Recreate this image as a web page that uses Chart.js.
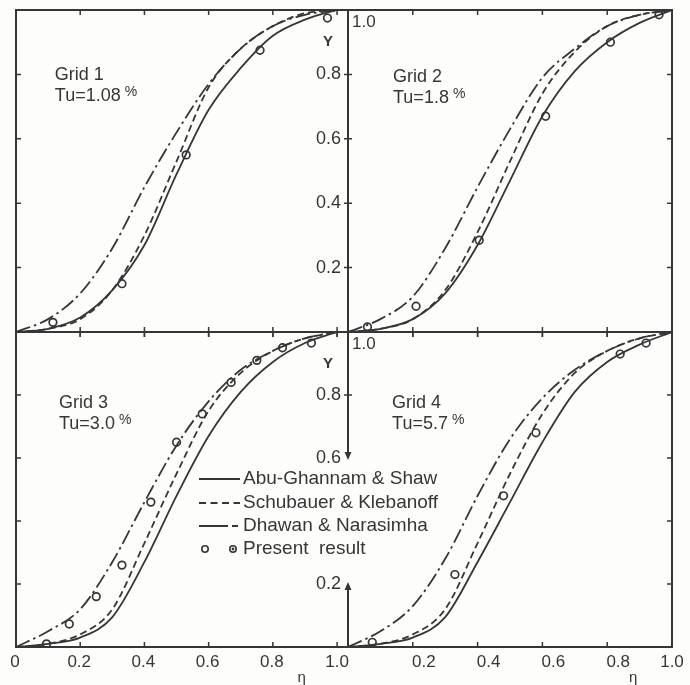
<!DOCTYPE html>
<html>
<head>
<meta charset="utf-8">
<title>Intermittency distributions, grids 1-4</title>
<script src="https://cdn.jsdelivr.net/npm/chart.js@4.4.1/dist/chart.umd.min.js"></script>
<style>
  html, body { margin: 0; padding: 0; background: #fdfdfc; }
  #figure { position: relative; width: 690px; height: 685px; }
  #figure canvas { position: absolute; left: 0; top: 0; }
</style>
</head>
<body>
<div id="figure">
  <canvas id="grid1" width="690" height="685"></canvas>
  <canvas id="grid2" width="690" height="685"></canvas>
  <canvas id="grid3" width="690" height="685"></canvas>
  <canvas id="grid4" width="690" height="685"></canvas>
</div>
<script>
const eta = [0, 0.1, 0.2, 0.3, 0.4, 0.5, 0.6, 0.7, 0.8, 0.9, 1.0];

// Grid 1, Tu = 1.08 %
const grid1Abu    = [0, 0.01, 0.045, 0.13, 0.27, 0.49, 0.69, 0.82, 0.92, 0.97, 1.0];
const grid1Schub  = [0, 0.01, 0.04, 0.13, 0.30, 0.53, 0.76, 0.88, 0.95, 0.99, 1.0];
const grid1Dhawan = [0, 0.04, 0.12, 0.26, 0.45, 0.62, 0.77, 0.88, 0.95, 0.985, 1.0];
const grid1PtEta   = [0.115, 0.33, 0.53, 0.76, 0.97];
const grid1PtGamma = [0.03, 0.15, 0.55, 0.875, 0.975];

// Grid 2, Tu = 1.8 %
const grid2Abu    = [0, 0.01, 0.04, 0.12, 0.27, 0.47, 0.67, 0.81, 0.90, 0.96, 1.0];
const grid2Schub  = [0, 0.01, 0.04, 0.13, 0.31, 0.53, 0.74, 0.87, 0.95, 0.985, 1.0];
const grid2Dhawan = [0, 0.04, 0.11, 0.26, 0.45, 0.63, 0.79, 0.88, 0.95, 0.985, 1.0];
const grid2PtEta   = [0.06, 0.21, 0.405, 0.61, 0.81, 0.96];
const grid2PtGamma = [0.016, 0.08, 0.285, 0.67, 0.90, 0.985];

// Grid 3, Tu = 3.0 %
const grid3Abu    = [0, 0.01, 0.03, 0.095, 0.27, 0.48, 0.67, 0.81, 0.905, 0.965, 1.0];
const grid3Schub  = [0, 0.01, 0.04, 0.12, 0.33, 0.55, 0.75, 0.87, 0.94, 0.98, 1.0];
const grid3Dhawan = [0, 0.05, 0.12, 0.27, 0.46, 0.64, 0.78, 0.88, 0.94, 0.98, 1.0];
const grid3PtEta   = [0.095, 0.166, 0.25, 0.33, 0.42, 0.50, 0.58, 0.67, 0.75, 0.83, 0.92];
const grid3PtGamma = [0.01, 0.073, 0.16, 0.26, 0.46, 0.65, 0.74, 0.84, 0.91, 0.95, 0.965];

// Grid 4, Tu = 5.7 %
const grid4Abu    = [0, 0.01, 0.03, 0.095, 0.27, 0.46, 0.65, 0.81, 0.905, 0.96, 1.0];
const grid4Schub  = [0, 0.01, 0.04, 0.12, 0.33, 0.55, 0.74, 0.87, 0.94, 0.98, 1.0];
const grid4Dhawan = [0, 0.05, 0.13, 0.28, 0.48, 0.66, 0.79, 0.88, 0.94, 0.98, 1.0];
const grid4PtEta   = [0.075, 0.33, 0.48, 0.58, 0.84, 0.92];
const grid4PtGamma = [0.015, 0.23, 0.48, 0.68, 0.93, 0.965];

const etaTicks = [0, 0.2, 0.4, 0.6, 0.8, 1.0];
const etaTickLabels = ['0', '0.2', '0.4', '0.6', '0.8', '1.0'];
const gammaTicks = [0.2, 0.4, 0.6, 0.8];
const gammaTickLabels = ['0.2', '0.4', '0.6', '0.8'];

const seriesNames = ['Abu-Ghannam & Shaw', 'Schubauer & Klebanoff', 'Dhawan & Narasimha', 'Present  result'];
const gridNames = ['Grid 1', 'Grid 2', 'Grid 3', 'Grid 4'];
const gridTu = ['Tu=1.08', 'Tu=1.8', 'Tu=3.0', 'Tu=5.7'];

const ink = '#363636';
const fontFamily = '"Liberation Sans", Arial, sans-serif';

const pairs = (xs, ys) => xs.map((x, i) => ({x: x, y: ys[i]}));
const tickLabel = v => etaTickLabels[etaTicks.indexOf(v)];
const gammaLabel = v => gammaTickLabels[gammaTicks.indexOf(v)];

// axes, frame, labels and legend that the figure draws by hand
const frameDecor = {
    id: 'frameDecor',
    afterDatasetsDraw(chart, args, o) {
        const ctx = chart.ctx;
        const a = chart.chartArea;
        const X = v => chart.scales.x.getPixelForValue(v);
        const Y = v => chart.scales.y.getPixelForValue(v);
        const outerX = o.side === 'left' ? a.left : a.right;
        const inward = o.side === 'left' ? 1 : -1;

        ctx.save();
        ctx.strokeStyle = ink;
        ctx.fillStyle = ink;

        // frame
        ctx.lineWidth = 2;
        ctx.beginPath();
        ctx.moveTo(a.left, a.top); ctx.lineTo(a.right, a.top);
        ctx.moveTo(a.left, a.bottom); ctx.lineTo(a.right, a.bottom);
        ctx.moveTo(outerX, a.top - 1); ctx.lineTo(outerX, a.bottom + 1);
        ctx.stroke();

        // inward ticks
        ctx.lineWidth = 1.5;
        ctx.beginPath();
        o.frameEta.forEach(v => {
            const px = X(v);
            ctx.moveTo(px, a.top); ctx.lineTo(px, a.top + 5);
            ctx.moveTo(px, a.bottom - 5); ctx.lineTo(px, a.bottom + (o.row === 'top' ? 5 : 0));
        });
        gammaTicks.forEach(v => {
            ctx.moveTo(outerX, Y(v)); ctx.lineTo(outerX + 5 * inward, Y(v));
        });
        ctx.stroke();

        // central gamma axis, belongs to the right-hand panels
        if (o.side === 'right') {
            const cx = a.left;
            ctx.lineWidth = 2;
            ctx.beginPath();
            o.axisRuns.forEach(r => { ctx.moveTo(cx, Y(r[0])); ctx.lineTo(cx, Y(r[1])); });
            ctx.stroke();
            ctx.lineWidth = 1.5;
            ctx.beginPath();
            o.axisCross.forEach(v => { ctx.moveTo(cx - 4, Y(v)); ctx.lineTo(cx + 4, Y(v)); });
            ctx.stroke();
            o.arrows.forEach(ar => {
                const py = Y(ar[0]), dir = ar[1];
                ctx.beginPath();
                ctx.moveTo(cx, py + 2 * dir);
                ctx.lineTo(cx - 3.5, py - 6 * dir);
                ctx.lineTo(cx + 3.5, py - 6 * dir);
                ctx.closePath();
                ctx.fill();
            });
            ctx.font = '18px ' + fontFamily;
            ctx.textBaseline = 'middle';
            ctx.textAlign = 'right';
            o.axisLabels.forEach(v => ctx.fillText(gammaLabel(v), cx - 7, Y(v)));
            ctx.textAlign = 'left';
            ctx.font = '17px ' + fontFamily;
            ctx.fillText('1.0', cx + 4, a.top + 12);
            ctx.textAlign = 'center';
            ctx.font = 'bold 15px ' + fontFamily;
            ctx.fillText('Y', cx - 20, a.top + 32);
        }

        // eta labels under the lower panels
        if (o.row === 'bottom') {
            ctx.font = '17px ' + fontFamily;
            ctx.textBaseline = 'middle';
            ctx.textAlign = 'center';
            o.labelEta.forEach(v => ctx.fillText(tickLabel(v), X(v) + (v < 1 ? o.labelShift : 0), a.bottom + 15));
            ctx.font = '15px ' + fontFamily;
            ctx.fillText('η', X(o.etaSymbolAt), a.bottom + 31);
        }

        // grid name and turbulence level
        const tx = X(o.titleAt[0]), ty = Y(o.titleAt[1]);
        ctx.textAlign = 'left';
        ctx.textBaseline = 'alphabetic';
        ctx.font = '18px ' + fontFamily;
        ctx.fillText(o.name, tx, ty);
        ctx.fillText(o.tu, tx, ty + 21);
        const w = ctx.measureText(o.tu).width;
        ctx.font = '14px ' + fontFamily;
        ctx.fillText('%', tx + w + 4, ty + 16);

        if (o.legend) drawLegend(chart, o.legend);
        ctx.restore();
    }
};

function drawLegend(chart, lg) {
    const ctx = chart.ctx;
    const ds = chart.data.datasets;
    ctx.font = '19px ' + fontFamily;
    ctx.textAlign = 'left';
    ctx.textBaseline = 'middle';
    lg.rows.forEach((dy, i) => {
        const y = lg.top + dy;
        if (i < 3) {
            ctx.save();
            ctx.lineWidth = 1.8;
            ctx.setLineDash(lg.dash[i]);
            ctx.beginPath();
            ctx.moveTo(lg.left, y);
            ctx.lineTo(lg.left + lg.sample, y);
            ctx.stroke();
            ctx.restore();
        } else {
            ctx.save();
            ctx.lineWidth = 1.6;
            [6, lg.sample - 7].forEach((dx, k) => {
                ctx.beginPath();
                ctx.arc(lg.left + dx, y, 3.2, 0, Math.PI * 2);
                ctx.stroke();
                if (k === 1) { ctx.beginPath(); ctx.arc(lg.left + dx, y, 1.4, 0, Math.PI * 2); ctx.fill(); }
            });
            ctx.restore();
        }
        ctx.fillText(ds[i].label, lg.left + lg.sample + 3, y);
    });
}

// panel rectangles on the page
const panelBox = {
    grid1: {left: 16, top: 10, right: 348, bottom: 332},
    grid2: {left: 348, top: 10, right: 672, bottom: 332},
    grid3: {left: 16, top: 332, right: 348, bottom: 647},
    grid4: {left: 348, top: 332, right: 672, bottom: 647}
};

function makePanel(id, curves, points, xMax, decor) {
    const b = panelBox[id];
    const lineBase = {
        borderColor: ink,
        borderWidth: 1.8,
        pointRadius: 0,
        fill: false,
        cubicInterpolationMode: 'monotone'
    };
    new Chart(document.getElementById(id), {
        type: 'line',
        data: {
            datasets: [
                Object.assign({label: seriesNames[0], data: pairs(eta, curves[0])}, lineBase),
                Object.assign({label: seriesNames[1], data: pairs(eta, curves[1]), borderDash: [7, 4]}, lineBase),
                Object.assign({label: seriesNames[2], data: pairs(eta, curves[2]), borderDash: [15, 4, 2.5, 4]}, lineBase),
                {
                    label: seriesNames[3],
                    data: pairs(points[0], points[1]),
                    showLine: false,
                    pointRadius: 3.8,
                    pointBorderWidth: 1.7,
                    pointBorderColor: ink,
                    pointBackgroundColor: 'rgba(255,255,255,0.7)'
                }
            ]
        },
        options: {
            responsive: false,
            animation: false,
            events: [],
            layout: {padding: {left: b.left, top: b.top, right: 690 - b.right, bottom: 685 - b.bottom}},
            scales: {
                x: {type: 'linear', min: 0, max: xMax, display: false},
                y: {type: 'linear', min: 0, max: 1, display: false}
            },
            plugins: {
                legend: {display: false},
                tooltip: {enabled: false},
                frameDecor: decor
            }
        },
        plugins: [frameDecor]
    });
}

// the left panels run a little past eta = 1 up to the shared centre axis
const leftMax = 1.034;

makePanel('grid1', [grid1Abu, grid1Schub, grid1Dhawan], [grid1PtEta, grid1PtGamma], leftMax, {
    side: 'left', row: 'top', frameEta: [0.2, 0.4, 0.6, 0.8, 1.0],
    titleAt: [0.121, 0.783], name: gridNames[0], tu: gridTu[0]
});
makePanel('grid2', [grid2Abu, grid2Schub, grid2Dhawan], [grid2PtEta, grid2PtGamma], 1.0, {
    side: 'right', row: 'top', frameEta: [0.2, 0.4, 0.6, 0.8],
    axisRuns: [[1, 0]], axisCross: [0.2, 0.4, 0.6, 0.8], arrows: [], axisLabels: [0.2, 0.4, 0.6, 0.8],
    titleAt: [0.139, 0.776], name: gridNames[1], tu: gridTu[1]
});
makePanel('grid3', [grid3Abu, grid3Schub, grid3Dhawan], [grid3PtEta, grid3PtGamma], leftMax, {
    side: 'left', row: 'bottom', frameEta: [0.2, 0.4, 0.6, 0.8, 1.0],
    labelEta: [0, 0.2, 0.4, 0.6, 0.8, 1.0], labelShift: -1, etaSymbolAt: 0.89,
    titleAt: [0.134, 0.759], name: gridNames[2], tu: gridTu[2],
    legend: {left: 199, top: 479, sample: 41, rows: [0, 24, 47, 70], dash: [[], [7, 4.5], [29, 4, 6, 100]]}
});
makePanel('grid4', [grid4Abu, grid4Schub, grid4Dhawan], [grid4PtEta, grid4PtGamma], 1.0, {
    side: 'right', row: 'bottom', frameEta: [0.2, 0.4, 0.6, 0.8],
    labelEta: [0.2, 0.4, 0.6, 0.8, 1.0], labelShift: 11, etaSymbolAt: 0.88,
    axisRuns: [[1, 0.6], [0.2, 0]], axisCross: [0.8], arrows: [[0.6, 1], [0.2, -1]], axisLabels: [0.8, 0.6, 0.2],
    titleAt: [0.136, 0.759], name: gridNames[3], tu: gridTu[3]
});
</script>
</body>
</html>
